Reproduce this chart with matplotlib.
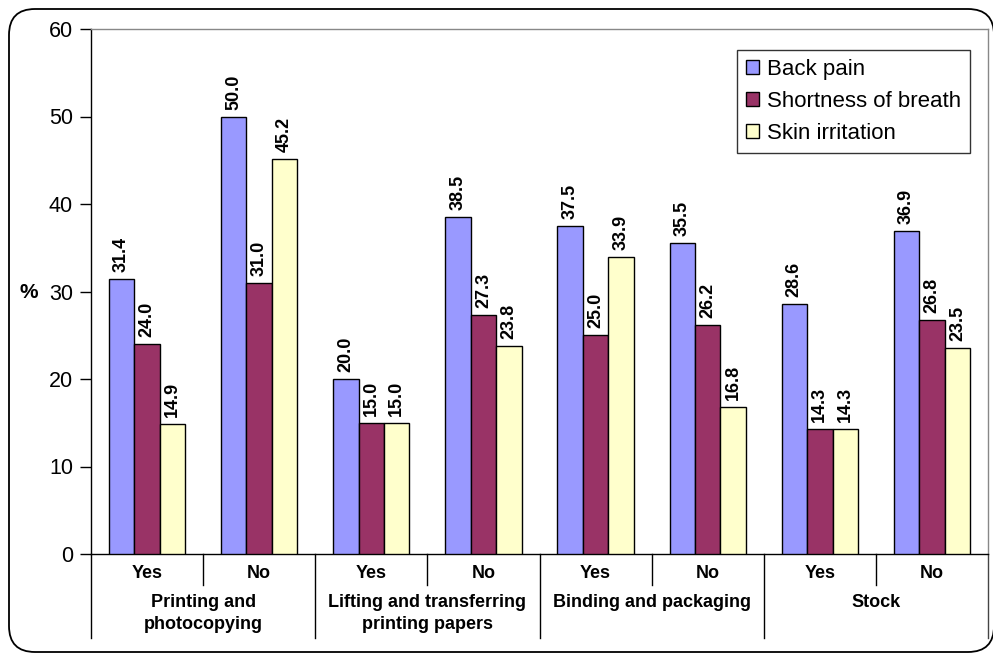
import matplotlib
matplotlib.use("Agg")
import matplotlib.pyplot as plt
from matplotlib.patches import FancyBboxPatch
import matplotlib.transforms as mtransforms
import numpy as np

plt.rcParams['font.family'] = ['Liberation Sans', 'DejaVu Sans']

groups = ["Printing and\nphotocopying", "Lifting and transferring\nprinting papers",
          "Binding and packaging", "Stock"]
subcats = ["Yes", "No"]
series = ["Back pain", "Shortness of breath", "Skin irritation"]
back_pain = [31.4, 50.0, 20.0, 38.5, 37.5, 35.5, 28.6, 36.9]
shortness = [24.0, 31.0, 15.0, 27.3, 25.0, 26.2, 14.3, 26.8]
skin = [14.9, 45.2, 15.0, 23.8, 33.9, 16.8, 14.3, 23.5]
colors = ["#9999FF", "#993366", "#FFFFCC"]

W, H = 993, 656
fig = plt.figure(figsize=(W / 100, H / 100), dpi=100)

# outer rounded border (pixel coordinates)
border = FancyBboxPatch((9, 4), 994 - 9, 647 - 4,
                        boxstyle="round,pad=0,rounding_size=26",
                        transform=mtransforms.IdentityTransform(), fill=False,
                        edgecolor="black", linewidth=1.3)
fig.patches.append(border)

left, right, top, bottom = 91, 988, 29, 554
ax = fig.add_axes([left / W, 1 - bottom / H, (right - left) / W, (bottom - top) / H])

n = len(back_pain)
x = np.arange(n) + 0.5
bw = 0.227
for k, (vals, c) in enumerate(zip([back_pain, shortness, skin], colors)):
    pos = x + (k - 1) * bw
    ax.bar(pos, vals, width=bw, color=c, edgecolor="black", linewidth=1.0,
           label=series[k], zorder=3)
    for px, v in zip(pos, vals):
        ax.annotate(f"{v:.1f}", (px, v), xytext=(0, 5), textcoords="offset points",
                    rotation=90, ha="center", va="bottom", fontsize=13,
                    fontweight="bold")

ax.set_xlim(0, n)
ax.set_ylim(0, 60)
ax.set_yticks(range(0, 61, 10))
ax.tick_params(axis="y", direction="out", length=8, width=1, labelsize=15.5, pad=5)
ax.tick_params(axis="x", length=0, labelbottom=False)
ax.spines["left"].set_color("black")
ax.spines["bottom"].set_color("black")
ax.spines["top"].set_color("#888888")
ax.spines["right"].set_color("#888888")
for s in ax.spines.values():
    s.set_linewidth(1.0)

ax.set_ylabel("%", rotation=0, fontsize=15, fontweight="bold", va="center")
ax.yaxis.set_label_coords(-(91 - 29) / (right - left), (bottom - 292) / (bottom - top))

trans = mtransforms.blended_transform_factory(ax.transData, ax.transAxes)
ax_h = bottom - top

def yfrac(py):
    return -(py - bottom) / ax_h

# separators
for i in range(n + 1):
    yend = yfrac(638) if i % 2 == 0 else yfrac(585)
    col = "black" if i < n else "#444444"
    ax.plot([i, i], [0, yend], transform=trans, color=col, linewidth=1.0, clip_on=False)

for i in range(n):
    ax.text(i + 0.5, yfrac(573), subcats[i % 2], transform=trans,
            ha="center", va="center", fontsize=13, fontweight="bold")
for g, name in enumerate(groups):
    ax.text(2 * g + 1, yfrac(594), name, transform=trans,
            ha="center", va="top", fontsize=13, fontweight="bold", linespacing=1.35)

leg = ax.legend(loc="upper right", bbox_to_anchor=((970 - left) / (right - left), (bottom - 50) / ax_h),
                fontsize=16, frameon=True, fancybox=False, edgecolor="black",
                borderaxespad=0, handlelength=0.6, handleheight=0.6, handletextpad=0.35,
                labelspacing=0.5, borderpad=0.4)
leg.get_frame().set_linewidth(1.0)

fig.savefig("out.png", dpi=100)
